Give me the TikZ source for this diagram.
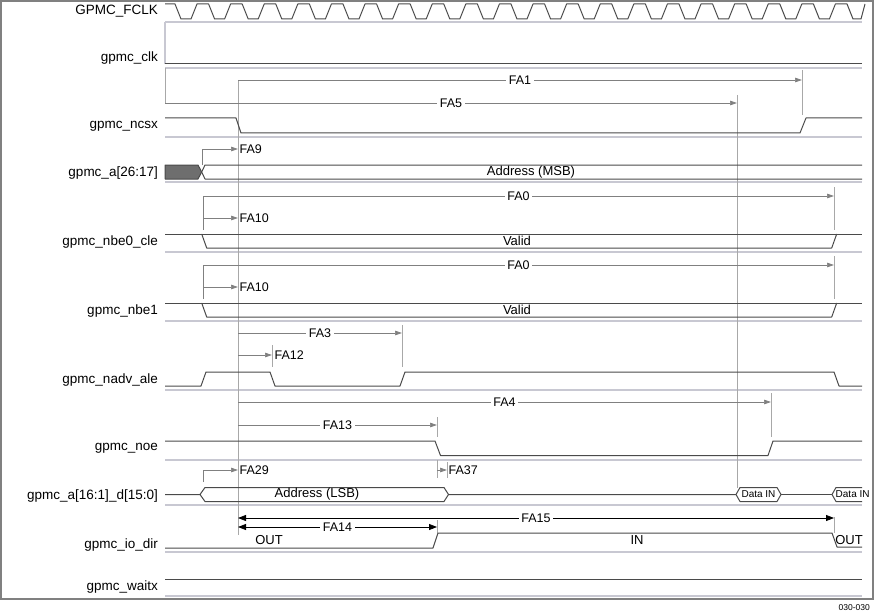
\documentclass[tikz,border=0pt]{standalone}
\usepackage{fontspec}
\setmainfont{Liberation Sans}
\usetikzlibrary{arrows.meta}
\definecolor{sigc}{HTML}{4A4A4A}
\definecolor{sepc}{HTML}{C8C8D2}
\definecolor{timc}{HTML}{808080}
\definecolor{refc}{HTML}{A8A8A8}
\definecolor{boxc}{HTML}{6E6E6E}
\tikzset{sig/.style={draw=sigc,line width=1pt,line join=round},
  sep/.style={draw=sepc,line width=1.3pt},
  tim/.style={draw=timc,line width=0.7pt,-{Triangle[length=7pt,width=4.5pt]}},
  refl/.style={draw=refc,line width=1pt},
  sname/.style={anchor=east,inner sep=0pt,font=\fontsize{13.5}{15}\selectfont},
  fa/.style={fill=white,inner sep=2.5pt,font=\fontsize{12.5}{14}\selectfont},
  fal/.style={anchor=west,inner sep=1.5pt,font=\fontsize{12.5}{14}\selectfont},
  val/.style={inner sep=0pt,font=\fontsize{13}{14}\selectfont},
  small/.style={inner sep=0pt,font=\fontsize{10}{11}\selectfont},
  dirarr/.style={draw=black,line width=0.8pt,{Triangle[length=8pt,width=6pt]}-{Triangle[length=8pt,width=6pt]}}}

\begin{document}
\begin{tikzpicture}[x=1pt,y=-1pt]
    \useasboundingbox (0,0) rectangle (875,615);
    \draw [draw=timc,line width=1.5pt] (1,1) rectangle (873,599);
    \node[inner sep=0pt,anchor=east,font=\fontsize{8.5}{9}\selectfont] (fig) at (870,608) {030-030};

    \node[sname] (fclk) at (158,11.5) {GPMC\_FCLK};
    \node[sname] (clk) at (158,58) {gpmc\_clk};
    \node[sname] (ncsx) at (158,126) {gpmc\_ncsx};
    \node[sname] (ahi) at (158,173) {gpmc\_a[26:17]};
    \node[sname] (nbe0) at (158,242) {gpmc\_nbe0\_cle};
    \node[sname] (nbe1) at (158,311) {gpmc\_nbe1};
    \node[sname] (nadv) at (158,380.5) {gpmc\_nadv\_ale};
    \node[sname] (noe) at (158,448.5) {gpmc\_noe};
    \node[sname] (alo) at (158,496) {gpmc\_a[16:1]\_d[15:0]};
    \node[sname] (iodir) at (158,545) {gpmc\_io\_dir};
    \node[sname] (waitx) at (158,587) {gpmc\_waitx};

    \foreach \y in {22,68,137,182,252,321,390,460,505,552,596}
        \draw [sep] (165,\y) -- (862,\y);

    \draw [sig] (165,4) -- (175,4)
        \foreach \k in {0,...,19}{ -- ++(6,15) -- ++(10,0) -- ++(6,-15) -- ++(11.6,0)}
        -- ++(6,15) -- ++(8,0) -- ++(4,-15);

    \draw [sep] (165,22) -- (165,64);
    \draw [sig] (165,64) -- (862,64);

    \draw [refl] (238,80) -- (238,535);
    \draw [refl] (737,95) -- (737,488);
    \draw [refl] (802,70) -- (802,115);
    \draw [tim] (238,80) -- node[fa] (fa1) {FA1} (802,80);
    \draw [refl] (165,68) -- (165,103);
    \draw [tim] (165,103) -- node[fa] (fa5) {FA5} (737,103);

    \draw [sig] (165,118) -- (236,118) -- (241,133) -- (800,133) -- (806,118) -- (862,118);

    \draw [draw=timc,line width=0.7pt] (202,165) -- (202,149);
    \draw [tim] (202,149) -- (238,149);
    \node[fal] (fa9) at (238,149) {FA9};

    \draw [sig,fill=boxc] (165,165) -- (198,165) -- (201.7,172) -- (198,179) -- (165,179) -- cycle;
    \draw [sig] (862,165) -- (205,165) -- (201.7,172) -- (205,179) -- (862,179);
    \node[val] (msb) at (531,172) {Address (MSB)};

    \foreach \t/\b in {196/234,265/303}{
        \draw [draw=timc,line width=0.7pt] (203,\b-4) -- (203,\t);
        \draw [refl] (834,\t-9) -- (834,\b-4);
        \draw [tim] (203,\t) -- node[fa] {FA0} (834,\t);
        \draw [tim] (203,\t+22) -- (238,\t+22);
        \node[fal] at (238,\t+22) {FA10};
        \draw [sig] (165,\b) -- (862,\b);
        \draw [sig] (201.7,\b) -- (206.7,\b+14) -- (831.7,\b+14) -- (836.7,\b);
        \node[val] at (517,\b+7) {Valid};
    }

    \draw [refl] (402,325) -- (402,367);
    \draw [tim] (238,333) -- node[fa] (fa3) {FA3} (402,333);
    \draw [refl] (272,345) -- (272,367);
    \draw [tim] (238,355) -- (272,355);
    \node[fal] (fa12) at (273,355) {FA12};

    \draw [sig] (165,386) -- (201,386) -- (206,372) -- (270,372) -- (275,386) -- (400,386) -- (405,372)
        -- (834,372) -- (839,386) -- (862,386);

    \draw [refl] (771,393) -- (771,437);
    \draw [tim] (238,402) -- node[fa] (fa4) {FA4} (771,402);
    \draw [refl] (437,417) -- (437,437);
    \draw [tim] (238,425) -- node[fa] (fa13) {FA13} (437,425);

    \draw [sig] (165,441) -- (435,441) -- (440.5,455.5) -- (768,455.5) -- (773,441) -- (862,441);

    \draw [draw=timc,line width=0.7pt] (203,482) -- (203,470);
    \draw [tim] (203,470) -- (238,470);
    \node[fal] (fa29) at (238,470) {FA29};
    \draw [refl] (437,460) -- (437,478);
    \draw [refl] (447,462) -- (447,478);
    \draw [tim] (437,470) -- (447,470);
    \node[fal] (fa37) at (447,470) {FA37};

    \draw [sig] (165,494.5) -- (200,494.5) -- (205,487.5) -- (444,487.5) -- (448.5,494.5) -- (444,501.5)
        -- (205,501.5) -- (200,494.5);
    \node[val] (lsb) at (317,494.5) {Address (LSB)};
    \draw [sig] (448.5,494.5) -- (736,494.5) -- (740,487.5) -- (777,487.5) -- (781,494.5) -- (777,501.5)
        -- (740,501.5) -- (736,494.5);
    \node[small] (din1) at (758.5,494.5) {Data IN};
    \draw [sig] (781,494.5) -- (832,494.5);
    \draw [sig] (862,487.5) -- (836,487.5) -- (832,494.5) -- (836,501.5) -- (862,501.5);
    \node[small,anchor=west] (din2) at (835.5,494.5) {Data IN};

    \draw [refl] (437,520) -- (437,533);
    \draw [refl] (834,517) -- (834,533);
    \draw [dirarr] (238,518) -- node[fa] (fa15) {FA15} (834,518);
    \draw [dirarr] (238,527) -- node[fa] (fa14) {FA14} (437,527);

    \draw [sig] (165,548) -- (433,548) -- (438,533) -- (832,533) -- (837,547) -- (862,547);
    \node[val] (out1) at (269,540) {OUT};
    \node[val] (in) at (637,540) {IN};
    \node[val] (out2) at (849,540) {OUT};

    \draw [sig] (165,579) -- (862,579);
\end{tikzpicture}
\end{document}
